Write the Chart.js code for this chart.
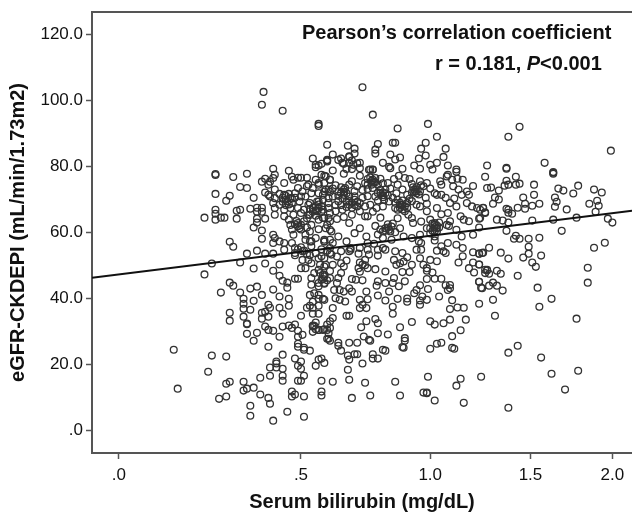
<!DOCTYPE html>
<html>
<head>
<meta charset="utf-8">
<script src="https://cdn.jsdelivr.net/npm/chart.js@4"></script>
<style>
  html, body { margin: 0; padding: 0; background: #fff; }
  #wrap { width: 632px; height: 514px; }
</style>
</head>
<body>
<div id="wrap"><canvas id="grafico" width="632" height="514"></canvas></div>
<script>
// [bilirubin mg/dL, eGFR]
const topPoints = [
  [.38,102.5],[.375,98.6],[.44,96.8],[.56,92.8],[.56,92.2],[.72,103.9],[.76,95.6],[.86,91.4],[.99,92.8],[1.03,88.9],
  [.98,87.1],[.84,87.1],[.85,87.1],[.78,86.7],[.77,85],[.77,83.8],[.59,86.5],[.665,86.2],[.69,85.3],[.69,83.8],
  [.61,83.5],[.54,82.3],[.59,81.7],[.56,80.2],[.55,79.7],[.64,82.3],[.67,82.8],[.645,81],[.67,81],[.685,80.4],[.71,81],
  [.83,83.5],[.85,82],[.87,82.6],[.80,81],[.825,79.8],[.96,85.3],[.98,83.2],[.95,82.3],[.93,80.2],[1.06,82.8],[1.07,85.3],
  [1.03,81],[1.0,80.4],[1.08,80.2],[.75,79],[.76,79],[.88,79.2],[1.12,79],[.83,79.4],[.955,79.2],[1.01,79],[1.08,77.4],
  [1.12,78.3],[1.125,76.2],[1.15,75.9],[1.20,74],[1.27,73.4],[1.44,91.9],[1.38,88.9],[1.99,84.7],[1.27,80.2],[1.37,79.5],
  [1.37,79.2],[1.58,81],[1.63,78],[1.63,78.2],[1.63,77.7],[1.26,76.8],[1.42,76.8],[1.37,75.6],[1.29,73.5],[1.33,72.6],
  [1.36,74.1],[1.38,74.4],[1.42,74.4],[1.44,74.7],[1.52,74.4],[1.52,71.3],[1.66,73.2],[1.69,72.6],[1.78,74.1],[1.75,71.7],
  [1.88,72.9],[1.93,72],[1.31,70.5],[1.30,68.6],[1.33,69.9],[1.46,70.5],[1.47,68.6],[1.25,67.4],[1.26,66],[1.23,64.1],
  [1.37,67.1],[1.38,66.8],[1.38,65.9],[1.40,65.6],[1.43,67.4],[1.47,67.1],[1.51,68],[1.55,68.6],[1.64,70.5],[1.65,69.2],
  [1.64,67.7],[1.71,66.9],[1.85,68.6],[1.90,69.5],[1.91,68],[1.89,66.2],[1.32,63.8],[1.35,63.5],[1.38,62.9],[1.51,63.5],
  [1.63,63.8],[1.77,64.4],[1.97,64.1],[2.0,62.9],[1.37,60.4],[1.68,60.4],[1.42,58.9],[1.41,58],[1.44,58],[1.49,58],[1.55,58.3],
  [1.23,61.4]
];

const leftPoints = [
  [.24,77.3],[.24,77.6],[.29,76.7],[.33,77.7],[.31,73.7],[.33,73.4],[.24,71.6],[.28,71],[.27,69.5],[.35,70.4],[.21,64.4],
  [.24,66.8],[.24,65.6],[.24,63.8],[.255,64.4],[.265,64.4],[.30,66.5],[.31,66.8],[.30,64.1],[.34,67.1],[.41,79.2],[.415,77.4],
  [.46,78.6],[.47,76.8],[.375,75.3],[.385,76.2],[.395,74.4],[.40,75.3],[.49,76.5],[.50,76.5],[.52,76.5],[.55,80.4],
  [.59,81.9],[.36,67.4],[.375,67.4],[.36,66.2],[.375,66.2],[.36,64.1],[.36,62.9],[.385,64.1],[.35,61.4],[.375,60.5],[.375,58],
  [.28,57.1],[.29,55.6],[.385,72],[.395,71.3],[.40,70.8],[.41,76.4],[.415,72.9],[.445,74.9],[.475,75.9],[.415,70.3],
  [.445,71.3],[.465,70.3],[.48,71.8],[.505,72.3],[.525,74.4],[.55,75.9],[.57,77.4],[.585,76.9],[.56,74.4],[.58,74.9],[.60,75.9],
  [.41,68.8],[.43,68.3],[.45,69.8],[.47,68.8],[.495,69.3],[.515,70.8],[.535,71.8],[.56,71.8],[.58,72.3],[.595,72.9],
  [.415,67.3],[.445,66.8],[.465,67.3],[.49,67.3],[.51,66.8],[.53,68.8],[.555,69.3],[.575,69.8],[.595,70.3],[.50,70.8],[.525,68.3],
  [.415,65.3],[.445,64.8],[.475,65.3],[.50,65.8],[.525,65.3],[.555,66.3],[.575,66.8],[.595,67.3],[.465,62.2],[.49,62.8],
  [.51,63.3],[.535,62.2],[.56,63.8],[.58,64.3],[.595,64.3],[.495,61.2],[.41,59.2],[.415,58.2],[.445,56.7],[.475,59.2],
  [.515,57.7],[.535,57.2],[.55,58.2],[.58,57.7],[.60,60.7],[.60,57.7],[.515,59.2],[.59,62.2],[.41,56.7],[.43,57.2],[.47,56.7],
  [.53,57.2],[.58,57.2]
];

const centrePoints = [
  [.59,81.4],[.57,80.7],[.61,78.7],[.63,81.9],[.65,80.7],[.67,83],[.68,81.7],[.70,80.9],[.66,79.1],[.65,77.7],[.68,79.1],
  [.71,79.4],[.745,78.9],[.76,78.9],[.71,77.1],[.74,76.1],[.76,75.9],[.77,75.1],[.73,74.9],[.70,73.9],[.68,75.4],[.65,72.9],
  [.63,72.3],[.60,75.9],[.58,77.1],[.56,74.9],[.585,72.9],[.575,71.3],[.61,70.8],[.65,71.3],[.67,70.8],[.69,69.8],[.67,68.3],
  [.645,66.8],[.62,66.3],[.595,68.8],[.57,67.8],[.56,69.3],[.60,65.8],[.575,64.3],[.60,63.3],[.625,64],[.65,64.6],[.68,65.3],
  [.70,67.8],[.73,67.8],[.71,66.3],[.75,68.3],[.775,67.3],[.80,67.8],[.79,71.8],[.81,72.9],[.82,74.9],[.845,76.1],[.865,77.1],
  [.89,76.4],[.91,76.1],[.86,74.4],[.88,72.9],[.90,71.3],[.92,72],[.93,72.9],[.955,72.3],[.97,73.9],[.94,68.3],[.955,67.8],
  [.985,68.6],[.985,66.3],[1.03,67.3],[1.02,71.8],[1.05,74.4],[1.045,75.4],[1.075,76.9],[1.10,75.9],[1.105,73.9],[1.13,72.9],
  [1.145,71.3],[1.17,72.3],[1.18,71.3],[1.17,68.8],[1.195,67.8],[1.22,67.3],[1.25,67.3],[1.26,65.8],[1.235,64.3],[1.18,63.3],
  [1.155,63.8],[1.14,64.8],[1.12,67.8],[1.09,68.8],[1.03,71.3],[1.05,71.3],[.955,75.4],[.855,71.8],[.825,69.3],[.85,67.3],
  [.87,67.3],[.89,66.3],[.905,65.3],[.92,64.3],[.925,62.8],[.87,61.2],[.81,61.2],[.825,60.7],[.835,61.7],[.77,61.9],[.74,64.8],
  [.73,64.8],[.71,61.2],[.735,58.7],[.69,59.7],[.67,62.8],[.63,58.7],[.605,60.2],[.585,61.2],[.56,60.9],[1.0,63.8],[1.0,61.2],
  [1.02,62.8],[1.03,61.2],[1.02,58.7],[.985,61.2],[1.085,61.9],[1.12,60.7],[1.145,58.7],[1.2,59.2],[1.075,62.2],[.955,59.2],
  [.92,58.2],[.96,56.7],[.885,58.7],[.80,58.2],[.835,57.7],[.765,56.5],[.74,56.7],[.66,57.2],[.61,56.7],[.58,57.2],[1.09,63.3],
  [1.235,66.8],[.652,72.2],[.66,69.2],[.645,70.2],[.765,75.2],[.755,74.4],[.80,71.2],[.805,69.8],[.87,68.3],[.88,66.9],
  [.945,72.9],[.935,72.3],[.95,71.4],[1.02,62.2],[1.01,60.4],[1.03,60.2],[.82,62.4],[.80,60.3],[.63,69.4],[.62,68.2],
  [.69,72.4],[.72,70.4],[.74,70.9],[.78,69.6],[.84,70.4],[.90,68.8],[.98,70.4],[1.0,73.2],[1.07,70.4],[1.11,70.2],[.54,73.4],
  [.52,73.9],[.49,73.4],[.86,64.2],[.79,64.4],[.76,66.2],[.96,63.2],[1.05,65.4],[1.08,65.8]
];

// darkest knots of the cloud, where rings pile on top of each other
const densePoints = [
  [.44,70.4],[.45,71],[.455,69.4],[.44,69.2],[.46,71.6],[.47,70.2],[.45,68.2],[.43,71.6],[.46,68.4],[.48,70.4],
  [.54,67.4],[.55,66.6],[.55,67.9],[.56,67.2],[.54,66.2],[.56,68.4],[.53,67],[.57,66.2],[.55,65],[.53,65.2],
  [.48,62.4],[.49,61.8],[.50,62.2],[.485,63.4],[.50,60.8],[.47,60.8],[.52,61.4],[.46,63.8],[.53,60.2],[.52,64.2],
  [.64,71.9],[.65,72.2],[.655,73.4],[.66,71.8],[.64,73.6],[.63,71],[.62,74.2],[.67,74.4],[.61,73.2],[.60,72.2],
  [.67,69.4],[.68,68.9],[.69,68.2],[.68,67.4],[.66,67.6],[.70,69.2],[.71,68.8],[.64,68.2],[.72,72.8],[.69,70.9],
  [.755,75.6],[.76,75],[.75,76.6],[.77,76.4],[.74,74.4],[.78,74.4],[.74,73.1],[.79,76.2],[.76,73.4],[.80,74.8],
  [.80,72],[.79,72.8],[.81,71.8],[.80,70.6],[.82,71.2],[.78,71.9],[.83,73.2],[.77,70.8],
  [.87,68.9],[.88,68.2],[.89,67.8],[.86,66.8],[.90,67.4],[.88,69.6],[.92,69.4],[.85,68.9],[.86,69.8],
  [.93,72.2],[.94,71.8],[.925,73.6],[.94,73.6],[.92,74.6],[.96,74.2],[.985,74.9],[.91,70.1],
  [1.02,61.5],[1.03,62],[1.01,62.6],[1.04,61.4],[1.02,60.2],[1.04,62.9],[1.0,59.6],
  [.82,61.4],[.81,60.4],[.83,60.2],[.84,62.6],[.79,60.8],[.85,60],[.78,59.3],
  [.49,54.8],[.50,55.4],[.51,54.4],[.48,53],[.52,53.4],[.55,53.6],[.57,54.8],[.59,54.4],[.53,53],
  [.58,46.6],[.57,45.6],[.59,45.4],[.60,48.2],[.56,48.6],[.64,50.6],[.66,51.4],[.72,50.2],[.73,50],[.71,48],
  [.545,31.6],[.55,30.6],[.88,47.9],[.90,52.4]
];

const lowerPoints = [
  [.23,50.5],[.21,47.2],[.31,50.8],[.33,53.5],[.36,54.4],[.385,53.5],[.385,50.5],[.35,49],[.41,53.5],[.43,50.2],[.41,48.3],
  [.43,46.8],[.44,45.3],[.455,44.7],[.455,43.2],[.48,45.9],[.49,45.9],[.28,44.7],[.29,43.8],[.255,41.7],[.31,41.7],[.34,42.9],
  [.36,43.5],[.375,41],[.41,42.6],[.35,39.2],[.32,39.8],[.32,38.3],[.32,36.8],[.32,34.4],[.34,36.5],[.28,35.6],[.28,33.2],
  [.33,32.3],[.33,32.1],[.375,35.6],[.385,35.9],[.395,38],[.40,37.1],[.395,34.4],[.375,33.8],[.43,40.5],[.46,39.8],[.46,37.7],
  [.43,37.1],[.44,35.3],[.50,34.7],[.52,37.1],[.53,37.7],[.54,38.9],[.54,37.1],[.56,39.8],[.575,39.8],[.56,37.7],[.56,35.3],
  [.54,35.3],[.53,41],[.33,29.2],[.36,29.5],[.35,27.1],[.385,31.4],[.395,30.4],[.41,30.1],[.43,28.3],[.395,25.3],[.44,31.4],
  [.46,31.7],[.48,32],[.47,31],[.49,30.1],[.505,28.9],[.49,28.3],[.49,26.2],[.51,25],[.54,31.7],[.54,31.4],[.55,32.6],
  [.56,30.4],[.54,29.8],[.59,30.4],[.60,31],[.59,27.7],
  [.505,51.6],[.525,51.6],[.535,50.6],[.56,52.1],[.58,49.6],[.515,49.1],[.50,49.1],[.545,47.6],[.565,47.6],[.58,47.1],[.58,44.6],
  [.535,46.1],[.535,44.1],[.545,41.5],[.56,43.6],[.48,53.7],[.505,54.2],[.535,55.7],[.57,52.7],[.60,53.7],[.48,55.2],[.445,54.7],
  [1.13,50.8],[1.20,53.9],[1.23,53.5],[1.245,53.7],[1.15,52.7],[1.20,50.8],[1.23,50.2],[1.205,47.8],[1.18,49.1],[1.26,48.6],
  [1.26,47.6],[1.23,45],[1.245,43],[1.165,33.5],[1.10,39.4],[1.125,37.2],[1.155,37.1],[1.09,36.7],[1.09,33.5],[1.06,32.4],
  [1.14,30.3],[1.10,28.5],[1.10,25],[1.0,33],[1.02,32],[.92,32.8],[.87,31.2],[.82,29],[.89,27.9],[.88,25.2],[.84,37.4],[.84,35.3],
  [1.04,40.5],[.985,39.5],[.86,39.8],[.81,39.3],[.78,40.8],[.90,39.9],[.90,38.9],[.955,39.3],[.955,38],[.965,40.5],[.94,42.5],
  [.955,43.9],[.99,42.8],[.93,41.5],[.985,45.8],[.985,48.3],[1.02,45.9],[1.05,45.9],[1.07,43.9],[1.09,44],[1.09,43],[1.08,42.5],
  [1.03,51.2],[1.0,51.6],[.97,50.1],[.985,49.1],[1.01,47.8],[.955,52.1],[.94,54.7],[1.06,54.2],[1.03,54.4],[1.08,56.7],[1.12,56.2],
  [1.15,55.2],[.88,53.7],[.85,54.2],[.81,54.7],[.78,52.9],[.74,54.7],[.71,55.2],[.675,54.7],[.73,51.6],[.71,50.8],[.74,49.1],
  [.77,48.8],[.705,49.1],[.68,45.8],[.695,45.6],[.72,45.4],[.65,49.6],[.64,47.6],[.63,46.1],[.625,44.6],[.60,46.1],[.575,47.1],
  [.58,44.4],[.56,44.6],[.61,50.1],[.585,50.1],[.565,50.1],[.575,45.8],[.845,51.6],[.855,50.1],[.87,50.6],[.81,48.1],[.845,46.1],
  [.89,45.1],[.885,51.1],[.92,50.1],[.91,47.9],[.865,43.6],[.825,42],[.84,44.6],[.81,44.6],[.775,43.8],[.78,45.1],[.735,42],[.68,42],
  [.67,43],[.65,42],[.635,42.5],[.615,42.5],[.655,39],[.635,39.5],[.62,40],[.58,39.5],[.56,41],[.71,39.5],[.72,38],[.735,37],[.71,37],
  [.74,39.7],[.61,37],[.66,34.7],[.67,34.7],[.61,34],[.60,33],[.59,32],[.58,30.6],[.575,30.4],[.56,30.4],[.595,29.4],[.595,27.7],
  [.77,33.7],[.735,33],[.715,31.2],[.78,32.4],[.78,29.4],[.725,28.4],[.745,27.4],[1.02,57.5],[.95,57.2],[.96,54.7],[1.05,55.7],
  [1.07,53.7],[.78,54.7],[.80,55.2],[.625,52.6],[.605,53.2],[.64,54.2],[.58,52.1],[.60,55.2],[.67,54.2],[.675,55.2],[.705,53.5],
  [.745,53.2],
  [1.28,55.3],[1.25,53.8],[1.23,53.5],[1.34,53.8],[1.38,52],[1.46,52.3],[1.49,53.5],[1.56,52.9],[1.49,55.6],[1.51,50.8],[1.53,49.5],
  [1.43,46.8],[1.88,55.3],[1.95,56.8],[1.84,49.2],[1.84,44.7],[1.27,48.6],[1.27,48.4],[1.28,47.4],[1.32,48.3],[1.34,47.4],[1.23,50.2],
  [1.23,45],[1.24,43.2],[1.28,43.8],[1.30,44.7],[1.32,43.8],[1.35,42.3],[1.30,39.5],[1.23,38.3],[1.31,34.7],[1.54,43.2],[1.62,39.8],
  [1.55,37.4],[1.77,33.8]
];

const bottomPoints = [
  [.13,24.4],[.14,12.6],[.23,22.6],[.27,22.3],[.22,17.7],[.27,14.1],[.28,14.7],[.25,9.5],[.27,10.2],[.32,14.7],[.32,12],[.33,12.6],
  [.35,12.9],[.37,15.9],[.37,10.8],[.395,9.8],[.40,8],[.34,7.4],[.34,4.4],[.41,2.9],[.455,5.6],[.51,4.1],[.44,22.9],[.40,19],[.42,19],
  [.42,20.8],[.42,20.2],[.44,18.6],[.40,16.5],[.44,16.5],[.44,15],[.47,11.7],[.48,10.8],[.47,10.2],[.51,10.2],[.57,15],[.57,11.7],[.57,10.5],
  [.49,25.3],[.51,24.4],[.53,24.1],[.48,21.7],[.50,20.8],[.49,19.5],[.50,18.6],[.51,16.5],[.49,15],[.50,15],[.55,19.5],[.56,21.4],[.57,21.7],
  [.58,20.4],[.60,27.1],[.63,26.5],[.63,25.6],[.64,24.1],[.67,26.5],[.70,26.5],[.75,27.1],[.665,22.6],[.67,21.4],[.69,23],[.70,23],[.72,20.2],
  [.76,23],[.76,21.7],[.78,21.7],[.80,24.4],[.81,24.1],[.885,25],[.89,27.1],[1.0,24.7],[1.03,26.2],[1.05,26.5],[1.11,24.7],[.665,18.3],
  [.61,14.7],[.67,15.3],[.73,14.4],[.85,14.7],[.68,9.8],[.75,10.5],[.87,10.5],[.99,16.2],[.97,11.4],[.985,11.4],[.985,11.2],[1.02,9],
  [1.14,15.6],[1.12,13.5],[1.155,8.3],[1.24,16.2],[1.43,25.6],[1.38,23.5],[1.56,22],[1.62,17.1],[1.78,18],[1.70,12.3],[1.38,6.8]
];

const scatterPoints = [...topPoints, ...leftPoints, ...centrePoints, ...densePoints, ...lowerPoints, ...bottomPoints];

const fitBili = [-0.058, 2.134];
const fitEgfr = [46.2, 66.5];

const xTickValues = [0, 0.5, 1, 1.5, 2];
const xTickLabels = [".0", ".5", "1.0", "1.5", "2.0"];
const yTickValues = [0, 20, 40, 60, 80, 100, 120];
const yTickLabels = [".0", "20.0", "40.0", "60.0", "80.0", "100.0", "120.0"];

// o eixo x do original nao e linear: segue ln(1 + bilirrubina)
const eixoX = v => Math.log1p(v);
const corEixo = "#555";
const fonte = '"Liberation Sans", Arial, sans-serif';

// moldura de cima e os dois textos dentro do grafico
const textoPearson = {
  id: "textoPearson",
  afterDraw(chart) {
    const { ctx, chartArea } = chart;
    ctx.save();
    ctx.strokeStyle = corEixo;
    ctx.lineWidth = 2;
    ctx.beginPath();
    ctx.moveTo(chartArea.left, chartArea.top);
    ctx.lineTo(chartArea.right, chartArea.top);
    ctx.stroke();

    ctx.fillStyle = "#111";
    ctx.textBaseline = "middle";
    ctx.textAlign = "left";
    ctx.font = "bold 20px " + fonte;
    ctx.fillText("Pearson\u2019s correlation coefficient", 302, 33);
    let x = 435;
    ctx.fillText("r = 0.181, ", x, 64);
    x += ctx.measureText("r = 0.181, ").width;
    ctx.font = "italic bold 20px " + fonte;
    ctx.fillText("P", x, 64);
    x += ctx.measureText("P").width;
    ctx.font = "bold 20px " + fonte;
    ctx.fillText("<0.001", x, 64);
    ctx.restore();
  }
};

new Chart(document.getElementById("grafico").getContext("2d"), {
  type: "scatter",
  data: {
    datasets: [
      {
        label: "Fit",
        type: "line",
        data: fitBili.map((b, i) => ({ x: eixoX(b), y: fitEgfr[i] })),
        borderColor: "#111",
        borderWidth: 2,
        pointRadius: 0,
        tension: 0,
        order: 0
      },
      {
        label: "eGFR",
        data: scatterPoints.map(p => ({ x: eixoX(p[0]), y: p[1] })),
        pointStyle: "circle",
        pointRadius: 3.4,
        pointBorderWidth: 1.3,
        pointBorderColor: "#333",
        pointBackgroundColor: "rgba(0,0,0,0)",
        order: 1
      }
    ]
  },
  options: {
    responsive: false,
    animation: false,
    layout: { autoPadding: false, padding: { top: 12 } },
    plugins: { legend: { display: false }, tooltip: { enabled: false } },
    scales: {
      x: {
        type: "linear",
        min: eixoX(fitBili[0]),
        max: eixoX(fitBili[1]),
        afterBuildTicks: axis => { axis.ticks = xTickValues.map(v => ({ value: eixoX(v) })); },
        afterFit: axis => { axis.height = 61; axis.paddingRight = 0; axis.paddingLeft = 0; },
        grid: { drawOnChartArea: false, color: corEixo, tickLength: 6, tickColor: corEixo, tickWidth: 1.5 },
        border: { color: corEixo, width: 2 },
        ticks: {
          autoSkip: false,
          maxRotation: 0,
          padding: 6,
          color: "#111",
          font: { family: fonte, size: 17 },
          callback: (val, i) => xTickLabels[i]
        },
        title: {
          display: true,
          text: "Serum bilirubin (mg/dL)",
          color: "#111",
          font: { family: fonte, size: 20, weight: "bold" },
          padding: { top: 6, bottom: 0 }
        }
      },
      y: {
        type: "linear",
        min: -6.9,
        max: 126.7,
        afterBuildTicks: axis => { axis.ticks = yTickValues.map(v => ({ value: v })); },
        afterFit: axis => { axis.width = 92; axis.paddingTop = 0; axis.paddingBottom = 0; },
        grid: { drawOnChartArea: false, color: corEixo, tickLength: 6, tickColor: corEixo, tickWidth: 1.5 },
        border: { color: corEixo, width: 2 },
        ticks: {
          autoSkip: false,
          padding: 3,
          color: "#111",
          font: { family: fonte, size: 17 },
          callback: (val, i) => yTickLabels[i]
        },
        title: {
          display: true,
          text: "eGFR-CKDEPI (mL/min/1.73m2)",
          color: "#111",
          font: { family: fonte, size: 20, weight: "bold" },
          padding: { top: 6, bottom: 0 }
        }
      }
    }
  },
  plugins: [textoPearson]
});
</script>
</body>
</html>
